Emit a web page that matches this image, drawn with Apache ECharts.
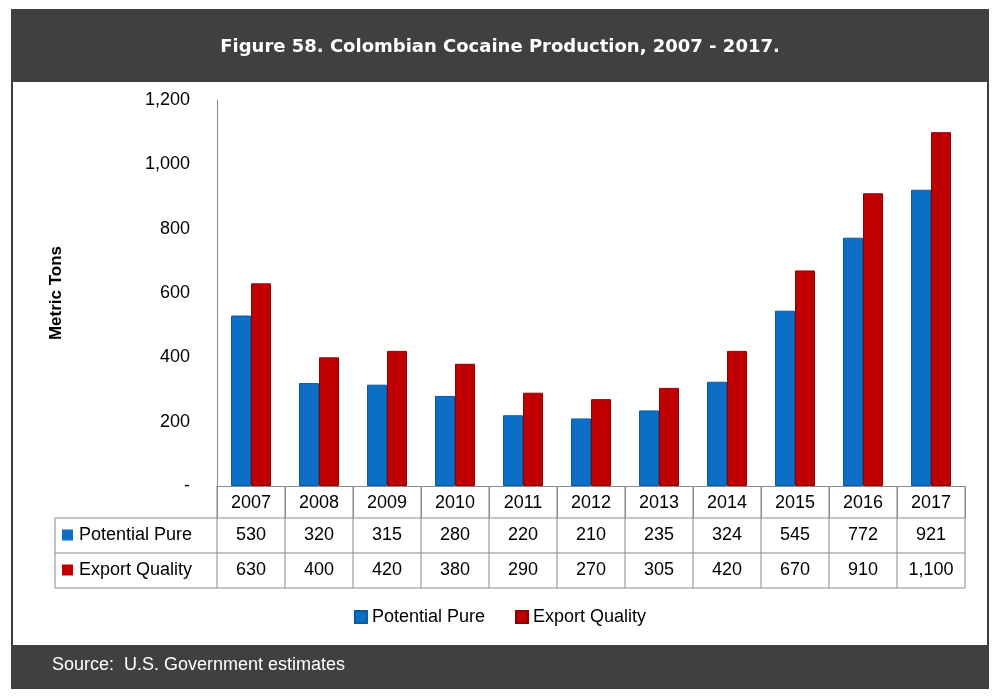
<!DOCTYPE html>
<html><head><meta charset="utf-8">
<script src="https://cdn.jsdelivr.net/npm/echarts@6/dist/echarts.min.js"></script>
<style>html,body{margin:0;background:#fff}#c{width:1000px;height:697px}</style>
</head><body><div id="c"></div>
<script>
// data
var years = ['2007','2008','2009','2010','2011','2012','2013','2014','2015','2016','2017']
var potentialPure = [530, 320, 315, 280, 220, 210, 235, 324, 545, 772, 921]
var exportQuality = [630, 400, 420, 380, 290, 270, 305, 420, 670, 910, 1100]
var seriesNames = ['Potential Pure', 'Export Quality']
var colors = ['#0b6fc6', '#c00000']

var chart = echarts.init(document.getElementById('c'))
var L = 217, R = 965, T = 100, B = 486
var fmt = function (v) { return v === 0 ? '-' : v.toLocaleString('en-US') }

function tableGraphics () {
  var g = []
  var line = '#8a8a8a', n = years.length, w = (R - L) / n
  var rows = [486, 518, 553, 588]
  // frame and bands
  g.push({ type: 'rect', shape: { x: 12, y: 10, width: 976, height: 678 }, style: { fill: 'none', stroke: '#3f3f3f', lineWidth: 2 } })
  g.push({ type: 'rect', shape: { x: 12, y: 10, width: 976, height: 72 }, style: { fill: '#404040' } })
  g.push({ type: 'rect', shape: { x: 12, y: 645, width: 976, height: 43 }, style: { fill: '#404040' } })
  g.push({ type: 'text', x: 500, y: 47, style: { text: 'Figure 58. Colombian Cocaine Production, 2007 - 2017.', fill: '#fff', font: 'bold 18px "DejaVu Sans"', align: 'center', verticalAlign: 'middle' } })
  g.push({ type: 'text', x: 52, y: 665, style: { text: 'Source:  U.S. Government estimates', fill: '#fff', font: '18px "Liberation Sans"', verticalAlign: 'middle' } })
  // table lines
  for (var i = 0; i <= n; i++) {
    g.push({ type: 'line', shape: { x1: L + i * w, y1: rows[0], x2: L + i * w, y2: rows[3] }, style: { stroke: line, lineWidth: 1 } })
  }
  g.push({ type: 'line', shape: { x1: 55, y1: rows[1], x2: 55, y2: rows[3] }, style: { stroke: line } })
  for (var r = 1; r < 4; r++) {
    g.push({ type: 'line', shape: { x1: 55, y1: rows[r], x2: R, y2: rows[r] }, style: { stroke: line } })
  }
  var data = [potentialPure, exportQuality]
  for (var s = 0; s < 2; s++) {
    var cy = (rows[s + 1] + rows[s + 2]) / 2
    g.push({ type: 'rect', shape: { x: 62, y: cy - 6, width: 11, height: 11 }, style: { fill: colors[s] } })
    g.push({ type: 'text', x: 79, y: cy, style: { text: seriesNames[s], fill: '#000', font: '18px "Liberation Sans"', verticalAlign: 'middle' } })
    for (var k = 0; k < n; k++) {
      g.push({ type: 'text', x: L + (k + 0.5) * w, y: cy, style: { text: fmt(data[s][k]), fill: '#000', font: '18px "Liberation Sans"', align: 'center', verticalAlign: 'middle' } })
    }
  }
  return g
}

chart.setOption({
  animation: false,
  grid: { left: L, right: 1000 - R, top: T, bottom: 697 - B },
  legend: {
    data: seriesNames, bottom: 66, left: 'center', itemWidth: 12, itemHeight: 12, itemGap: 30,
    icon: 'rect', textStyle: { fontSize: 18, color: '#000', fontFamily: 'Liberation Sans' }
  },
  xAxis: {
    type: 'category', data: years,
    axisLine: { lineStyle: { color: '#8a8a8a' } },
    axisTick: { show: true, length: 32, lineStyle: { color: '#8a8a8a' } },
    axisLabel: { fontSize: 18, color: '#000', margin: 8, fontFamily: 'Liberation Sans' }
  },
  yAxis: {
    type: 'value', min: 0, max: 1200, interval: 200,
    name: 'Metric Tons', nameLocation: 'middle', nameGap: 152, nameRotate: 90,
    nameTextStyle: { fontSize: 17, fontWeight: 'bold', color: '#000', fontFamily: 'Liberation Sans' },
    axisLine: { show: true, lineStyle: { color: '#8a8a8a' } },
    splitLine: { show: false },
    axisLabel: { fontSize: 18, color: '#000', margin: 27, fontFamily: 'Liberation Sans', formatter: fmt }
  },
  series: [
    { name: seriesNames[0], type: 'bar', data: potentialPure, barWidth: 20, barGap: '0%', itemStyle: { color: colors[0], borderColor: '#0a5aa0', borderWidth: 1 } },
    { name: seriesNames[1], type: 'bar', data: exportQuality, barWidth: 20, itemStyle: { color: colors[1], borderColor: '#8e0000', borderWidth: 1 } }
  ],
  graphic: tableGraphics()
})
</script></body></html>
